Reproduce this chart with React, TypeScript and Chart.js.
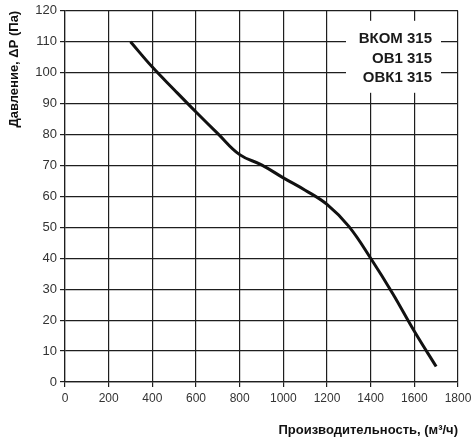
import React, { useEffect, useRef } from 'react';
import { Chart, registerables } from 'chart.js';

Chart.register(...registerables);

// Расход, м³/ч
const flowValues = [300, 400, 500, 600, 700, 800, 900, 1000, 1100, 1200, 1300, 1400, 1500, 1600, 1700];
// Давление, Па
const pressureValues = [110, 101.8, 94.5, 87.3, 80.3, 73.5, 70.2, 66, 62, 57.4, 50.3, 40, 28.7, 16.4, 5];
const modelLabels = ['ВКОМ 315', 'ОВ1 315', 'ОВК1 315'];

const FONT = "Arial, 'Liberation Sans', sans-serif";
const GRID = '#1e1e1e';

// белая плашка с названиями моделей
const modelBoxPlugin = {
  id: 'modelBox',
  afterDraw(chart: any) {
    const { ctx, chartArea } = chart;
    const right = chartArea.right - 17;
    const left = right - 95;
    const top = chartArea.top + 10;
    ctx.save();
    ctx.fillStyle = '#ffffff';
    ctx.fillRect(left, top, right - left, 72);
    ctx.fillStyle = '#1a1a1a';
    ctx.font = `bold 15px ${FONT}`;
    ctx.textAlign = 'right';
    ctx.textBaseline = 'alphabetic';
    modelLabels.forEach((t, i) => {
      ctx.fillText(t, right - 9, top + 22 + i * 19.7);
    });
    ctx.restore();
  }
};

const App: React.FC = () => {
  const chartRef = useRef<HTMLCanvasElement>(null);
  const chartInstance = useRef<Chart | null>(null);

  useEffect(() => {
    document.body.style.margin = '0';
    if (!chartRef.current) return;
    const ctx = chartRef.current.getContext('2d');
    if (!ctx) return;

    chartInstance.current = new Chart(ctx, {
      type: 'line',
      data: {
        datasets: [
          {
            label: 'P',
            data: flowValues.map((x, i) => ({ x, y: pressureValues[i] })),
            borderColor: '#111111',
            borderWidth: 3,
            pointRadius: 0,
            tension: 0.4,
            fill: false
          }
        ]
      },
      options: {
        responsive: false,
        animation: false,
        layout: { padding: { top: 10, right: 18, left: 0, bottom: 0 } },
        plugins: {
          legend: { display: false },
          tooltip: { enabled: false }
        },
        scales: {
          x: {
            type: 'linear',
            min: 0,
            max: 1800,
            afterFit: (s: any) => { s.height = 60; },
            ticks: {
              stepSize: 200,
              color: '#333333',
              font: { family: FONT, size: 12 },
              padding: 4,
              callback: (v: any) => String(v)
            },
            grid: { color: GRID, lineWidth: 1.2, tickLength: 5 },
            border: { color: GRID, width: 1.2 },
            title: {
              display: true,
              text: 'Производительность, (м³/ч)',
              align: 'end',
              color: '#111111',
              font: { family: FONT, size: 13, weight: 'bold' },
              padding: { top: 0, bottom: 4 }
            }
          },
          y: {
            min: 0,
            max: 120,
            afterFit: (s: any) => { s.width = 65; },
            ticks: { stepSize: 10, color: '#333333', font: { family: FONT, size: 13 }, padding: 3 },
            grid: { color: GRID, lineWidth: 1.2, tickLength: 5 },
            border: { color: GRID, width: 1.2 },
            title: {
              display: true,
              text: 'Давление, ΔP (Па)',
              align: 'end',
              color: '#111111',
              font: { family: FONT, size: 13, weight: 'bold' },
              padding: { top: 7, bottom: 0 }
            }
          }
        }
      },
      plugins: [modelBoxPlugin]
    });

    return () => {
      if (chartInstance.current) {
        chartInstance.current.destroy();
        chartInstance.current = null;
      }
    };
  }, []);

  return (
    <div style={{ width: 476, height: 442, background: '#ffffff' }}>
      <canvas ref={chartRef} width={476} height={442} style={{ width: 476, height: 442 }}></canvas>
    </div>
  );
};

export default App;
